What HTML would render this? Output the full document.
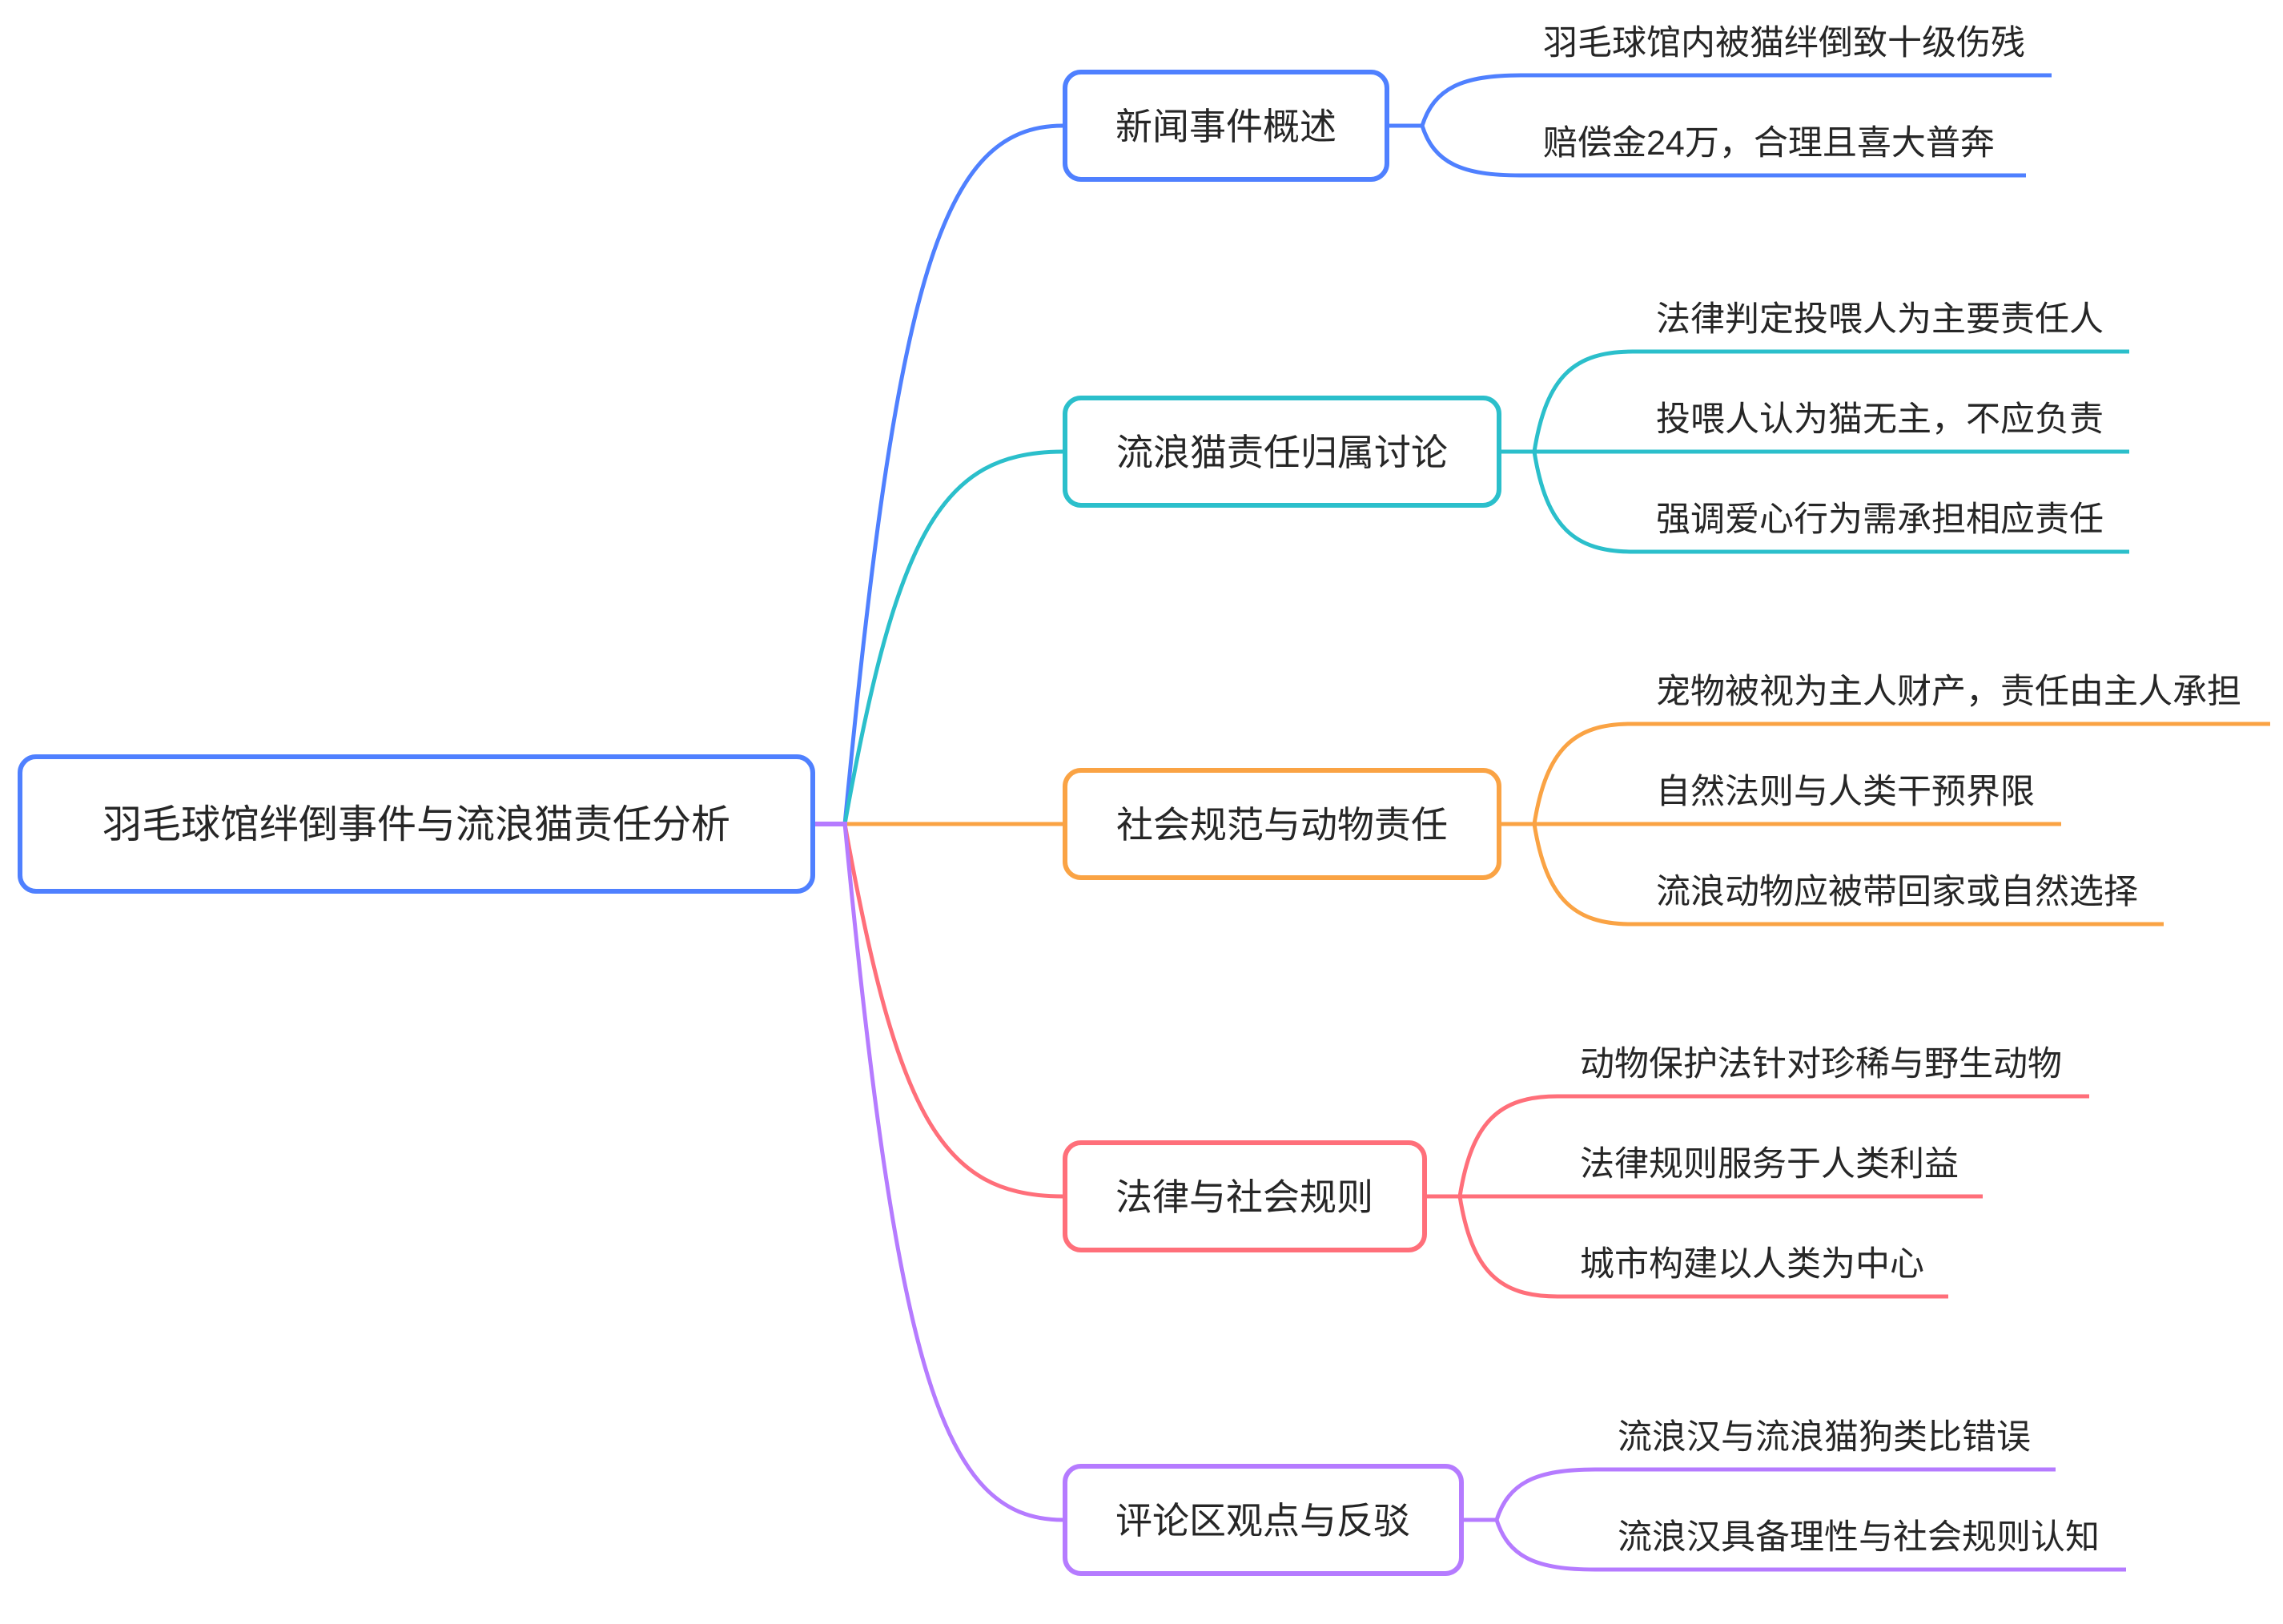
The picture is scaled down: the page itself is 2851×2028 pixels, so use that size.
<!DOCTYPE html>
<html>
<head>
<meta charset="utf-8">
<style>
html,body{margin:0;padding:0;background:#fff;}
svg{display:block;}
text{font-family:"Liberation Sans","Noto Sans CJK SC",sans-serif;fill:#262626;}
</style>
</head>
<body>
<svg width="2851" height="2028" viewBox="0 0 2851 2028" xmlns="http://www.w3.org/2000/svg">
<rect x="0" y="0" width="2851" height="2028" fill="#ffffff"/>

<!-- main connectors -->
<g fill="none" stroke-width="5" stroke-linecap="butt">
  <path d="M1055 1029 C1120 349 1175 157 1327 157" stroke="#4F80FF"/>
  <path d="M1055 1029 C1120 666 1175 564 1327 564" stroke="#2BBFCB"/>
  <path d="M1055 1029 L1327 1029" stroke="#FAA344"/>
  <path d="M1055 1029 C1120 1392 1175 1494 1327 1494" stroke="#FF6F7A"/>
  <path d="M1055 1029 C1120 1707 1175 1898 1327 1898" stroke="#B57BFF"/>
  <path d="M1016 1029 L1058 1029" stroke="#B57BFF" stroke-width="6"/>
</g>

<!-- root box -->
<rect x="25" y="945" width="990" height="168" rx="20" ry="20" fill="#fff" stroke="#4F80FF" stroke-width="6"/>
<text x="520" y="1046" font-size="49" text-anchor="middle">羽毛球馆绊倒事件与流浪猫责任分析</text>

<!-- Group 1 : blue -->
<g fill="none" stroke="#4F80FF" stroke-width="5">
  <path d="M1733 157 L1776 157"/>
  <path d="M1776 157 C1791 110 1826 94 1899 94 L2562 94"/>
  <path d="M1776 157 C1791 204 1826 219 1899 219 L2530 219"/>
</g>
<rect x="1330" y="90" width="402" height="134" rx="20" ry="20" fill="#fff" stroke="#4F80FF" stroke-width="6"/>
<text x="1531" y="174" font-size="46" text-anchor="middle">新闻事件概述</text>
<text x="1927" y="68" font-size="43">羽毛球馆内被猫绊倒致十级伤残</text>
<text x="1927" y="193" font-size="43">赔偿金24万，合理且喜大普奔</text>

<!-- Group 2 : teal -->
<g fill="none" stroke="#2BBFCB" stroke-width="5">
  <path d="M1873 564 L2659 564"/>
  <path d="M1916 564 C1931 470 1966 439 2039 439 L2659 439"/>
  <path d="M1916 564 C1931 658 1966 689 2039 689 L2659 689"/>
</g>
<rect x="1330" y="497" width="542" height="134" rx="20" ry="20" fill="#fff" stroke="#2BBFCB" stroke-width="6"/>
<text x="1601" y="581" font-size="46" text-anchor="middle">流浪猫责任归属讨论</text>
<text x="2068" y="413" font-size="43">法律判定投喂人为主要责任人</text>
<text x="2068" y="538" font-size="43">投喂人认为猫无主，不应负责</text>
<text x="2068" y="663" font-size="43">强调爱心行为需承担相应责任</text>

<!-- Group 3 : orange -->
<g fill="none" stroke="#FAA344" stroke-width="5">
  <path d="M1873 1029 L2574 1029"/>
  <path d="M1916 1029 C1931 935 1966 904 2037 904 L2835 904"/>
  <path d="M1916 1029 C1931 1123 1966 1154 2037 1154 L2702 1154"/>
</g>
<rect x="1330" y="962" width="542" height="134" rx="20" ry="20" fill="#fff" stroke="#FAA344" stroke-width="6"/>
<text x="1601" y="1046" font-size="46" text-anchor="middle">社会规范与动物责任</text>
<text x="2068" y="878" font-size="43">宠物被视为主人财产，责任由主人承担</text>
<text x="2068" y="1003" font-size="43">自然法则与人类干预界限</text>
<text x="2068" y="1128" font-size="43">流浪动物应被带回家或自然选择</text>

<!-- Group 4 : red -->
<g fill="none" stroke="#FF6F7A" stroke-width="5">
  <path d="M1780 1494 L2476 1494"/>
  <path d="M1823 1494 C1838 1400 1873 1369 1945 1369 L2609 1369"/>
  <path d="M1823 1494 C1838 1588 1873 1619 1945 1619 L2433 1619"/>
</g>
<rect x="1330" y="1427" width="449" height="134" rx="20" ry="20" fill="#fff" stroke="#FF6F7A" stroke-width="6"/>
<text x="1554" y="1511" font-size="46" text-anchor="middle">法律与社会规则</text>
<text x="1973" y="1343" font-size="43">动物保护法针对珍稀与野生动物</text>
<text x="1973" y="1468" font-size="43">法律规则服务于人类利益</text>
<text x="1973" y="1593" font-size="43">城市构建以人类为中心</text>

<!-- Group 5 : purple -->
<g fill="none" stroke="#B57BFF" stroke-width="5">
  <path d="M1826 1898 L1869 1898"/>
  <path d="M1869 1898 C1884 1851 1919 1835 1992 1835 L2567 1835"/>
  <path d="M1869 1898 C1884 1945 1919 1960 1992 1960 L2655 1960"/>
</g>
<rect x="1330" y="1831" width="495" height="134" rx="20" ry="20" fill="#fff" stroke="#B57BFF" stroke-width="6"/>
<text x="1577" y="1915" font-size="46" text-anchor="middle">评论区观点与反驳</text>
<text x="2020" y="1809" font-size="43">流浪汉与流浪猫狗类比错误</text>
<text x="2020" y="1934" font-size="43">流浪汉具备理性与社会规则认知</text>
</svg>
</body>
</html>
